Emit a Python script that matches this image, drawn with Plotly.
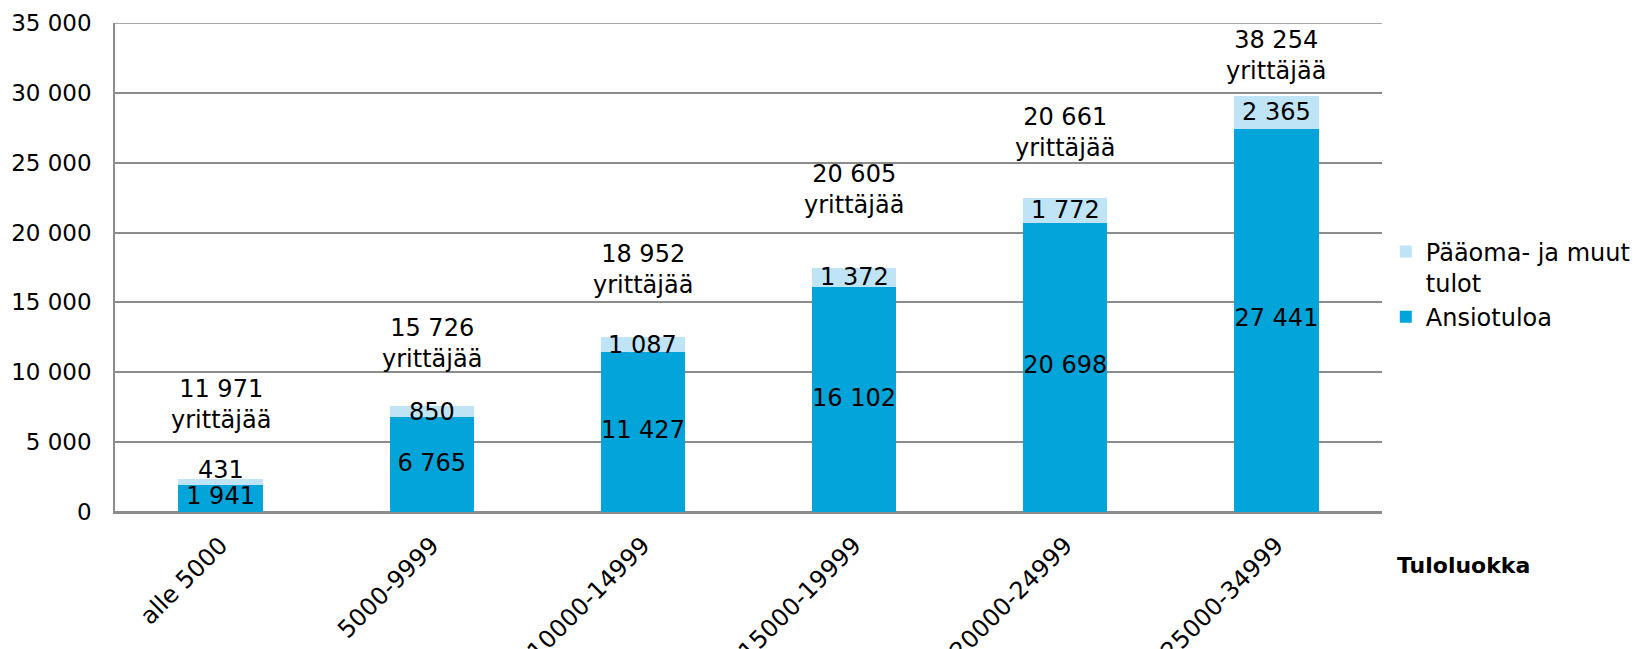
import plotly.graph_objects as go

# ---- data ----
categories = ["alle 5000", "5000-9999", "10000-14999", "15000-19999", "20000-24999", "25000-34999"]
ansiotulo = [1941, 6765, 11427, 16102, 20698, 27441]
paaoma = [431, 850, 1087, 1372, 1772, 2365]
yrittajia = [11971, 15726, 18952, 20605, 20661, 38254]
y_ticks = [0, 5000, 10000, 15000, 20000, 25000, 30000, 35000]

# ---- layout constants (label heights in data units) ----
count_label_y = [7725, 12050, 17350, 23100, 27150, 32650]

DARK = "#02A4D9"
LIGHT = "#BEE4F6"
GRID = "#8C8C8C"
FONT = "DejaVu Sans, sans-serif"
FS = 24


def fmt(v):
    return f"{v:,}".replace(",", " ")


fig = go.Figure()
fig.add_trace(go.Bar(x=categories, y=ansiotulo, name="Ansiotuloa",
                     marker=dict(color=DARK, line=dict(width=0)), hoverinfo="skip"))
fig.add_trace(go.Bar(x=categories, y=paaoma, name="Pääoma- ja muut<br>tulot",
                     marker=dict(color=LIGHT, line=dict(width=0)), hoverinfo="skip"))

# value labels centred in each dark segment
fig.add_trace(go.Scatter(x=categories, y=[v / 2 for v in ansiotulo], mode="text",
                         text=[fmt(v) for v in ansiotulo], textposition="middle center",
                         textfont=dict(family=FONT, size=FS, color="black"),
                         showlegend=False, hoverinfo="skip"))
# value labels centred in each light segment (nudged up when the segment is very thin)
for c, a, p in zip(categories, ansiotulo, paaoma):
    fig.add_annotation(x=c, y=a + p / 2, xref="x", yref="y", text=fmt(p), showarrow=False,
                       font=dict(family=FONT, size=FS, color="black"),
                       xanchor="center", yanchor="middle", yshift=12 if p < 600 else 0)

for c, n, yy in zip(categories, yrittajia, count_label_y):
    fig.add_annotation(x=c, y=yy, xref="x", yref="y", text=f"{fmt(n)}<br>yrittäjää",
                       showarrow=False, font=dict(family=FONT, size=FS, color="black"),
                       align="center", xanchor="center", yanchor="middle")

fig.add_annotation(x=1.0103, y=-0.11, xref="paper", yref="paper", text="<b>Tuloluokka</b>",
                   showarrow=False, font=dict(family=FONT, size=22, color="black"),
                   xanchor="left", yanchor="middle")

# top gridline at the last tick (plotly omits gridline at range end)
fig.add_shape(type="line", xref="paper", yref="y", x0=0, x1=1, y0=y_ticks[-1], y1=y_ticks[-1],
              line=dict(color=GRID, width=1.5), layer="below")

# the page body adds an 8px offset, so margins are reduced on left/top accordingly
fig.update_layout(
    barmode="stack",
    bargap=0.6,
    width=1638, height=649,
    margin=dict(l=107, r=264, t=15, b=145, autoexpand=False),
    paper_bgcolor="white", plot_bgcolor="white",
    font=dict(family=FONT, size=FS, color="black"),
    separators=", ",
    legend=dict(x=1.003, y=0.578, xanchor="left", yanchor="top", traceorder="reversed",
                font=dict(family=FONT, size=FS, color="black"), valign="top",
                bgcolor="rgba(0,0,0,0)", tracegroupgap=4),
)
fig.update_yaxes(range=[0, 35000], tickvals=y_ticks, ticktext=[fmt(v) for v in y_ticks],
                 showgrid=True, gridcolor=GRID, gridwidth=1.5,
                 zeroline=True, zerolinecolor=GRID, zerolinewidth=1.5,
                 showline=True, linecolor=GRID, linewidth=1.5,
                 ticks="", ticklabelstandoff=17, automargin=False,
                 tickfont=dict(family=FONT, size=23, color="black"))
fig.update_xaxes(showgrid=False, showline=True, linecolor=GRID, linewidth=1.5,
                 tickangle=-45, ticks="", ticklabelstandoff=8, automargin=False,
                 tickfont=dict(family=FONT, size=FS, color="black"))

fig.write_html("out.html")
